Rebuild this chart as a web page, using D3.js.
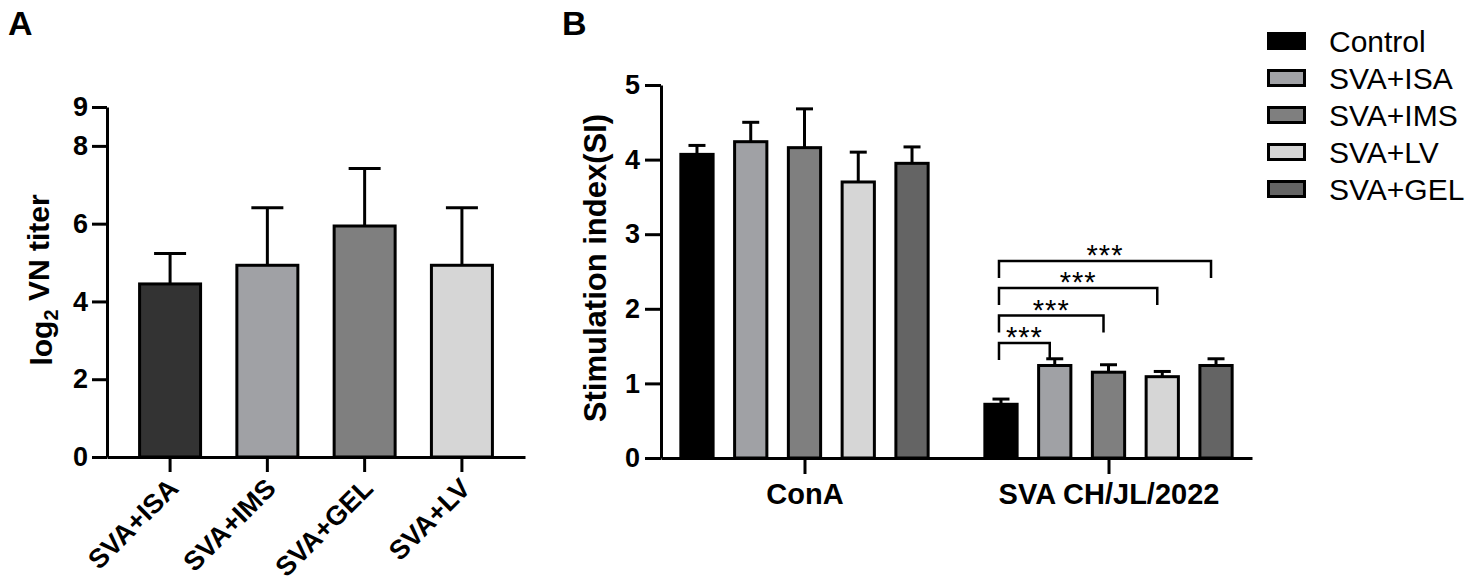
<!DOCTYPE html>
<html>
<head>
<meta charset="utf-8">
<script src="https://cdn.jsdelivr.net/npm/d3@7"></script>
<style>
  body { margin: 0; background: #fff; }
  svg { font-family: "Liberation Sans", Arial, sans-serif; }
</style>
</head>
<body>
<div id="chart"></div>
<script>
// Panel A: neutralising antibody titer
const catsA = ["SVA+ISA", "SVA+IMS", "SVA+GEL", "SVA+LV"];
const meansA = [4.45, 4.93, 5.94, 4.93];
const errsA = [0.78, 1.48, 1.48, 1.48];
const colorsA = ["#333333", "#a0a1a5", "#7f7f7f", "#d6d6d6"];
const ticksA = [0, 2, 4, 6, 8, 9];

// Panel B: stimulation index
const groupsB = ["ConA", "SVA CH/JL/2022"];
const seriesB = ["Control", "SVA+ISA", "SVA+IMS", "SVA+LV", "SVA+GEL"];
const colorsB = ["#000000", "#a0a1a5", "#7f7f7f", "#d6d6d6", "#646464"];
const conaMeans = [4.07, 4.24, 4.16, 3.70, 3.95];
const conaErrs = [0.12, 0.26, 0.52, 0.40, 0.22];
const svaMeans = [0.72, 1.24, 1.15, 1.09, 1.24];
const svaErrs = [0.07, 0.09, 0.10, 0.07, 0.09];
const ticksB = [0, 1, 2, 3, 4, 5];

// significance brackets (Control vs ...), heights in SI units
const sigTargets = ["SVA+ISA", "SVA+IMS", "SVA+LV", "SVA+GEL"];
const sigHeights = [1.54, 1.91, 2.28, 2.64];
const sigLabels = ["***", "***", "***", "***"];

const svg = d3.select("#chart")
  .append("svg")
  .attr("width", 1477)
  .attr("height", 588);

const lw = 3;

function styleAxis(g, size) {
  g.selectAll("path, line").attr("stroke", "#000").attr("stroke-width", lw);
  g.selectAll("text")
    .attr("fill", "#000")
    .style("font-size", size + "px")
    .style("font-weight", "bold");
}

// ---------- Panel A ----------
const yA = d3.scaleLinear().domain([0, 9]).range([457, 107]);
const xA = d3.scaleBand()
  .domain(catsA)
  .range([107, 525])
  .paddingInner(0.373)
  .paddingOuter(0.335);

const dataA = catsA.map((c, i) => ({ cat: c, mean: meansA[i], err: errsA[i], color: colorsA[i] }));

// error bars (upper only)
const errA = svg.append("g");
errA.selectAll("line.stem")
  .data(dataA)
  .enter()
  .append("line")
  .attr("x1", d => xA(d.cat) + xA.bandwidth() / 2)
  .attr("x2", d => xA(d.cat) + xA.bandwidth() / 2)
  .attr("y1", d => yA(d.mean))
  .attr("y2", d => yA(d.mean + d.err))
  .attr("stroke", "#000")
  .attr("stroke-width", lw);
errA.selectAll("line.cap")
  .data(dataA)
  .enter()
  .append("line")
  .attr("x1", d => xA(d.cat) + xA.bandwidth() / 2 - 16)
  .attr("x2", d => xA(d.cat) + xA.bandwidth() / 2 + 16)
  .attr("y1", d => yA(d.mean + d.err))
  .attr("y2", d => yA(d.mean + d.err))
  .attr("stroke", "#000")
  .attr("stroke-width", lw);

svg.append("g")
  .selectAll("rect")
  .data(dataA)
  .enter()
  .append("rect")
  .attr("x", d => xA(d.cat))
  .attr("y", d => yA(d.mean))
  .attr("width", xA.bandwidth())
  .attr("height", d => yA(0) - yA(d.mean))
  .attr("fill", d => d.color)
  .attr("stroke", "#000")
  .attr("stroke-width", lw);

svg.append("g")
  .attr("transform", "translate(107,0)")
  .call(d3.axisLeft(yA).tickValues(ticksA).tickFormat(d3.format("d")).tickSize(15).tickSizeOuter(0).tickPadding(4))
  .call(g => styleAxis(g, 27));

const axA = svg.append("g")
  .attr("transform", "translate(0,457)")
  .call(d3.axisBottom(xA).tickSize(15).tickSizeOuter(0))
  .call(g => styleAxis(g, 27));
axA.selectAll(".tick text")
  .attr("text-anchor", "end")
  .attr("dy", null)
  .attr("y", null)
  .attr("transform", "translate(10,33) rotate(-45)");

svg.append("text")
  .attr("transform", "translate(52,280) rotate(-90)")
  .attr("text-anchor", "middle")
  .style("font-size", "30px")
  .style("font-weight", "bold")
  .call(t => {
    t.append("tspan").text("log");
    t.append("tspan").attr("dy", "0.28em").style("font-size", "20px").text("2");
    t.append("tspan").attr("dy", "-0.28em").text(" VN titer");
  });

svg.append("text")
  .attr("x", 8)
  .attr("y", 35)
  .style("font-size", "34px")
  .style("font-weight", "bold")
  .text("A");

// ---------- Panel B ----------
const yB = d3.scaleLinear().domain([0, 5]).range([458, 85]);
const x0 = d3.scalePoint().domain(groupsB).range([661, 1252]).padding(0.472);
const x1 = d3.scaleBand()
  .domain(seriesB)
  .range([-134.4, 134.4])
  .paddingInner(0.4)
  .paddingOuter(0.2);

const valuesB = [conaMeans, svaMeans];
const errorsB = [conaErrs, svaErrs];
const dataB = [];
groupsB.forEach((g, gi) => {
  seriesB.forEach((s, si) => {
    dataB.push({ group: g, series: s, mean: valuesB[gi][si], err: errorsB[gi][si], color: colorsB[si] });
  });
});
const cx = d => x0(d.group) + x1(d.series) + x1.bandwidth() / 2;

const errB = svg.append("g");
errB.selectAll("line.stem")
  .data(dataB)
  .enter()
  .append("line")
  .attr("x1", cx)
  .attr("x2", cx)
  .attr("y1", d => yB(d.mean))
  .attr("y2", d => yB(d.mean + d.err))
  .attr("stroke", "#000")
  .attr("stroke-width", lw);
errB.selectAll("line.cap")
  .data(dataB)
  .enter()
  .append("line")
  .attr("x1", d => cx(d) - 8.5)
  .attr("x2", d => cx(d) + 8.5)
  .attr("y1", d => yB(d.mean + d.err))
  .attr("y2", d => yB(d.mean + d.err))
  .attr("stroke", "#000")
  .attr("stroke-width", lw);

svg.append("g")
  .selectAll("rect")
  .data(dataB)
  .enter()
  .append("rect")
  .attr("x", d => x0(d.group) + x1(d.series))
  .attr("y", d => yB(d.mean))
  .attr("width", x1.bandwidth())
  .attr("height", d => yB(0) - yB(d.mean))
  .attr("fill", d => d.color)
  .attr("stroke", "#000")
  .attr("stroke-width", lw);

svg.append("g")
  .attr("transform", "translate(661,0)")
  .call(d3.axisLeft(yB).tickValues(ticksB).tickFormat(d3.format("d")).tickSize(16).tickSizeOuter(0).tickPadding(5))
  .call(g => styleAxis(g, 27));

svg.append("g")
  .attr("transform", "translate(0,458)")
  .call(d3.axisBottom(x0).tickSize(16).tickSizeOuter(0).tickPadding(9))
  .call(g => styleAxis(g, 29));

svg.append("text")
  .attr("transform", "translate(606,268) rotate(-90)")
  .attr("text-anchor", "middle")
  .style("font-size", "31px")
  .style("font-weight", "bold")
  .text("Stimulation index(SI)");

svg.append("text")
  .attr("x", 562)
  .attr("y", 35)
  .style("font-size", "34px")
  .style("font-weight", "bold")
  .text("B");

// significance brackets in the SVA group
const sigGroup = groupsB[1];
const xCtrl = x0(sigGroup) + x1("Control") + x1.bandwidth() / 2 - 2;
const legLen = 17;
const sig = svg.append("g");
sigTargets.forEach((t, i) => {
  const xt = x0(sigGroup) + x1(t) + x1.bandwidth() / 2 - 5;
  const yb = yB(sigHeights[i]);
  sig.append("path")
    .attr("d", `M${xCtrl},${yb + legLen} V${yb} H${xt} V${yb + legLen}`)
    .attr("fill", "none")
    .attr("stroke", "#000")
    .attr("stroke-width", 2.5);
  sig.append("text")
    .attr("x", (xCtrl + xt) / 2)
    .attr("y", yb + 4)
    .attr("text-anchor", "middle")
    .style("font-size", "29px")
    .style("letter-spacing", "1px")
    .text(sigLabels[i]);
});

// legend
const legend = svg.append("g")
  .attr("transform", "translate(1267,41)");
const legendItem = legend.selectAll(".legend-item")
  .data(seriesB)
  .enter()
  .append("g")
  .attr("class", "legend-item")
  .attr("transform", (d, i) => `translate(0, ${i * 37})`);
legendItem.append("rect")
  .attr("x", 1.5)
  .attr("y", -7.5)
  .attr("width", 36)
  .attr("height", 15)
  .attr("fill", (d, i) => colorsB[i])
  .attr("stroke", "#000")
  .attr("stroke-width", lw);
legendItem.append("text")
  .attr("x", 62)
  .attr("y", 0)
  .attr("dy", "0.36em")
  .style("font-size", "30px")
  .text(d => d);
</script>
</body>
</html>
